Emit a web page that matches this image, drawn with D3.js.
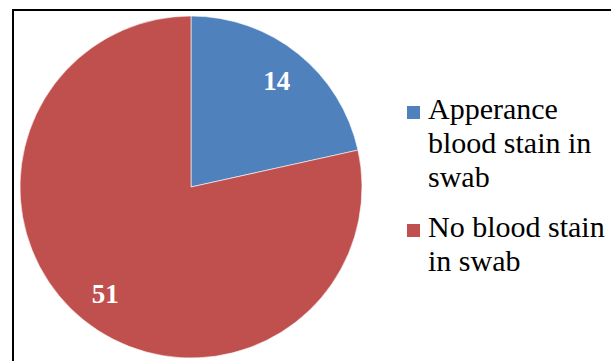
<!DOCTYPE html>
<html>
<head>
<meta charset="utf-8">
<script src="https://cdn.jsdelivr.net/npm/d3@7"></script>
<style>
  html, body { margin: 0; padding: 0; background: #fff; }
  svg { display: block; }
</style>
</head>
<body>
<svg id="chart" width="611" height="361"></svg>
<script>
// Swab observations
const categories = ["Apperance blood stain in swab", "No blood stain in swab"];
const values = [14, 51];
const legendLines = [["Apperance", "blood stain in", "swab"], ["No blood stain", "in swab"]];
const colors = ["#4F81BD", "#C0504D"];
const SERIF = '"Liberation Serif", "Times New Roman", serif';

const svg = d3.select("#chart");

// Chart frame
svg.append("rect")
  .attr("x", 13).attr("y", 10)
  .attr("width", 640).attr("height", 400)
  .attr("fill", "none")
  .attr("stroke", "#000")
  .attr("stroke-width", 2);

const cx = 191, cy = 187, r = 171;
const data = categories.map((c, i) => ({ name: c, value: values[i], color: colors[i] }));

const pie = d3.pie().value(d => d.value).sort(null);
const arc = d3.arc().innerRadius(0).outerRadius(r);
const labelArc = d3.arc().innerRadius(r * 0.8).outerRadius(r * 0.8);

const g = svg.append("g").attr("transform", `translate(${cx},${cy})`);
const arcs = pie(data);

g.selectAll("path.slice")
  .data(arcs)
  .join("path")
  .attr("class", "slice")
  .attr("d", arc)
  .attr("fill", d => d.data.color)
  .attr("stroke", "#fff")
  .attr("stroke-width", 0.6);

g.selectAll("text.val")
  .data(arcs)
  .join("text")
  .attr("class", "val")
  .attr("x", d => labelArc.centroid(d)[0])
  .attr("y", d => labelArc.centroid(d)[1])
  .attr("text-anchor", "middle")
  .attr("dy", "0.35em")
  .attr("fill", "#fff")
  .style("font-family", SERIF, "important")
  .style("font-weight", "bold")
  .attr("font-size", 27)
  .text(d => d.data.value);

// Legend
const legendTop = [119, 237];
const lineH = 34;
const legend = svg.append("g");
data.forEach((d, i) => {
  legend.append("rect")
    .attr("x", 407).attr("y", legendTop[i] - 13)
    .attr("width", 13).attr("height", 13)
    .attr("fill", d.color);
  const t = legend.append("text")
    .style("font-family", SERIF, "important")
    .attr("font-size", 30)
    .attr("fill", "#000");
  legendLines[i].forEach((ln, j) => {
    t.append("tspan")
      .attr("x", 428).attr("y", legendTop[i] + j * lineH)
      .style("font-family", SERIF, "important")
      .text(ln);
  });
});
</script>
</body>
</html>
